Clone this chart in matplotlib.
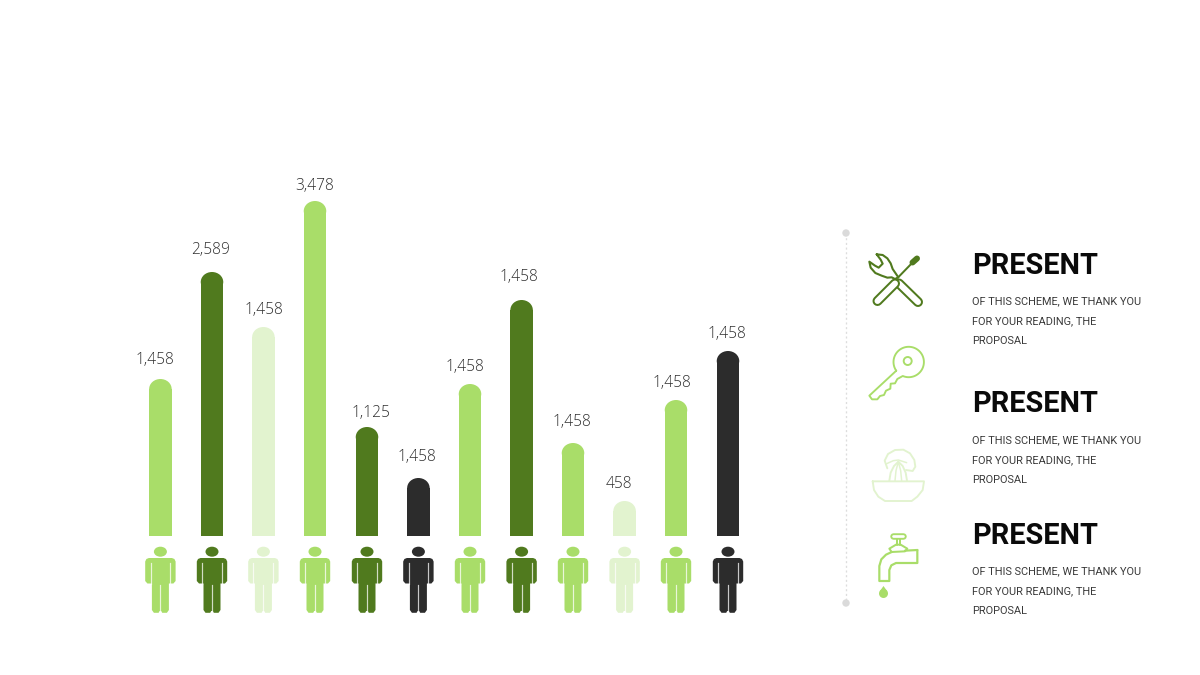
import numpy as np
import matplotlib
matplotlib.use("Agg")
import matplotlib.pyplot as plt
from matplotlib.patches import Ellipse, Polygon, Circle

LIGHT = "#A9DD69"
DARK = "#507A1E"
PALE = "#E2F3CF"
BLACK = "#2C2C2C"

# chart data
value_labels = ["1,458", "2,589", "1,458", "3,478", "1,125", "1,458",
                "1,458", "1,458", "1,458", "458", "1,458", "1,458"]
bar_heights = [157, 264, 209, 335, 109, 58, 152, 236, 93, 35, 136, 185]
bar_colors = [LIGHT, DARK, PALE, LIGHT, DARK, BLACK, LIGHT, DARK, LIGHT, PALE, LIGHT, BLACK]
bar_centers = [160.4, 212, 263.4, 315, 367, 418.4, 470, 521.6, 573, 624.6, 676, 728]
label_x = [155, 211, 263.5, 314.5, 371, 416.5, 465, 519, 572, 619, 671.5, 727]
label_y = [359.5, 249.5, 309.5, 186, 413, 457, 367, 277, 421.5, 484, 383, 334]

# side panel text
headings = ["PRESENT", "PRESENT", "PRESENT"]
heading_y = [265.5, 404.5, 535.5]
body_lines = ["OF THIS SCHEME, WE THANK YOU", "FOR YOUR READING, THE", "PROPOSAL"]
body_y = [[301, 321, 341], [440, 460, 480], [571, 591, 611]]

BASE = 536
W = 22.5

fig = plt.figure(figsize=(12, 6.75), dpi=100, facecolor="white")
ax = fig.add_axes([0, 0, 1, 1])
ax.set_xlim(0, 1200)
ax.set_ylim(675, 0)
ax.axis("off")


def px(v):
    return v * 0.72


def zoom_pts(pts, ox, oy):
    return [(ox + a / 3, oy + b / 3) for a, b in pts]


def stroke(pts, color, lw=2.0, closed=False, z=5):
    arr = np.array(pts, float)
    if closed:
        arr = np.vstack([arr, arr[:1]])
    ax.plot(arr[:, 0], arr[:, 1], color=color, lw=px(lw), solid_capstyle="round",
            solid_joinstyle="round", zorder=z)


def capsule(p, q, color, outer, lw=2.0, z=5):
    ax.plot([p[0], q[0]], [p[1], q[1]], color=color, lw=px(outer), solid_capstyle="round", zorder=z)
    ax.plot([p[0], q[0]], [p[1], q[1]], color="white", lw=px(outer - 2 * lw), solid_capstyle="round", zorder=z + 0.1)


# bars with rounded tops
for cx, h, c in zip(bar_centers, bar_heights, bar_colors):
    cap = 10
    ax.bar(cx, h - cap, W, bottom=BASE - (h - cap), color=c, linewidth=0, zorder=2)
    ax.add_patch(Ellipse((cx, BASE - h + cap), W, 2 * cap, color=c, lw=0, zorder=2))

# value labels
for x, y, t in zip(label_x, label_y, value_labels):
    ax.text(x, y, t, ha="center", va="center", fontsize=11.2, color="#2E2E2E",
            family="Open Sans", fontweight="light", zorder=6)


# person pictograms
def person(cx, color):
    ax.add_patch(Ellipse((cx, 551.7), 13, 10, color=color, lw=0, zorder=3))
    body = [(-11.5, 558), (11.5, 558), (14, 559), (15.2, 561.5), (15.2, 581), (13, 583.5), (8.5, 583.5),
            (8.5, 610), (6.5, 612.8), (1.8, 612.8), (0.8, 611), (-0.8, 611), (-1.8, 612.8), (-6.5, 612.8),
            (-8.5, 610), (-8.5, 583.5), (-13, 583.5), (-15.2, 581), (-15.2, 561.5), (-14, 559)]
    ax.add_patch(Polygon([(cx + a, b) for a, b in body], closed=True, color=color, lw=0, zorder=3))
    # thin slits between limbs
    for a, (y0, y1) in [(-9.9, (563, 584)), (9.9, (563, 584)), (0, (585, 613))]:
        ax.plot([cx + a, cx + a], [y0, y1], color="white", lw=px(1.2), alpha=0.75, zorder=4)


for cx, c in zip(bar_centers, bar_colors):
    person(cx, c)

# dotted timeline
ax.plot([846, 846], [233, 603], color="#DDDDDD", lw=px(1.3), ls=(0, (1.6, 2.0)), zorder=1)
for y in (233, 603):
    ax.add_patch(Circle((846, y), 3.7, color="#DADADA", lw=0, zorder=2))

# icon: wrench and screwdriver
ox, oy = 860, 245
ax.plot([898, 915], [277.5, 260], color=DARK, lw=px(2), zorder=6)
ax.plot([912.5, 917], [262.5, 258.5], color=DARK, lw=px(6), solid_capstyle="round", zorder=6)
capsule((877.5, 301), (895, 283.5), DARK, 10)
capsule((918, 302), (899, 283.5), DARK, 10, z=4)
stroke(zoom_pts([(50, 28), (68, 30), (82, 40), (92, 55), (98, 72), (115, 97), (105, 102), (95, 97), (82, 98),
                 (65, 92), (46, 84), (32, 68), (28, 50), (45, 62), (56, 68), (68, 56), (62, 44)], ox, oy),
       DARK, 2.1, closed=True, z=7)

# icon: key
ox, oy = 860, 340
kx, ky, kr = 908.7, 362, 15.2
arc = [(kx + kr * np.cos(a), ky - kr * np.sin(a)) for a in np.radians(np.linspace(215, -113, 70))]
teeth = zoom_pts([(112, 117), (105, 130), (92, 131), (91, 146), (78, 152), (72, 165), (60, 168), (52, 178),
                  (36, 178), (28, 167)], ox, oy)
stroke(arc + teeth, LIGHT, 1.9, closed=True)
ax.add_patch(Circle((907.7, 361), 4, fill=False, ec=LIGHT, lw=px(1.9), zorder=5))

# icon: juicer
ox, oy = 860, 440
stroke(zoom_pts([(38, 124), (192, 124), (188, 150), (172, 170), (155, 183), (75, 183), (55, 170), (42, 150)], ox, oy),
       PALE, 1.9, closed=True)
stroke(zoom_pts([(82, 85), (74, 62), (84, 42), (105, 30), (130, 29), (150, 40), (163, 60), (166, 80), (158, 93), (138, 90)], ox, oy),
       PALE, 1.9)
stroke(zoom_pts([(88, 122), (92, 98), (102, 78), (115, 65), (128, 78), (137, 98), (141, 122)], ox, oy), PALE, 1.9)
stroke(zoom_pts([(105, 122), (108, 92), (115, 65), (122, 92), (125, 122)], ox, oy), PALE, 1.5)
stroke(zoom_pts([(78, 72), (100, 62), (115, 60), (140, 68)], ox, oy), PALE, 1.5)

# icon: faucet
ox, oy = 860, 530
stroke(zoom_pts([(172, 60), (172, 99), (108, 99), (94, 106), (88, 120), (88, 153), (58, 153), (58, 108),
                 (64, 88), (78, 74), (95, 66)], ox, oy), LIGHT, 2.2)
stroke(zoom_pts([(135, 62), (172, 60)], ox, oy), LIGHT, 2.2)
stroke(zoom_pts([(95, 66), (88, 56), (108, 44), (122, 44), (142, 56), (135, 64), (95, 66)], ox, oy), LIGHT, 2.0)
stroke(zoom_pts([(110, 24), (110, 44)], ox, oy), LIGHT, 2.0)
stroke(zoom_pts([(120, 24), (120, 44)], ox, oy), LIGHT, 2.0)
capsule((860 + 100 / 3, 530 + 17 / 3), (860 + 130 / 3, 530 + 17 / 3), LIGHT, 6.5, lw=1.9)
ax.add_patch(Circle((883.5, 593.5), 4.5, color=LIGHT, lw=0, zorder=5))
ax.add_patch(Polygon([(883.5, 586), (879.6, 591.5), (887.4, 591.5)], color=LIGHT, lw=0, zorder=5))

# side text
for y, t in zip(heading_y, headings):
    ax.text(972, y, t, ha="left", va="center", fontsize=20.8, color="#0A0A0A",
            family="Roboto", fontweight="bold", zorder=6)
for ys in body_y:
    for y, t in zip(ys, body_lines):
        ax.text(972, y, t, ha="left", va="center", fontsize=7.9, color="#3A3A3A",
                family="Roboto", fontweight="regular", zorder=6)

fig.savefig("out.png", dpi=100, facecolor="white")
